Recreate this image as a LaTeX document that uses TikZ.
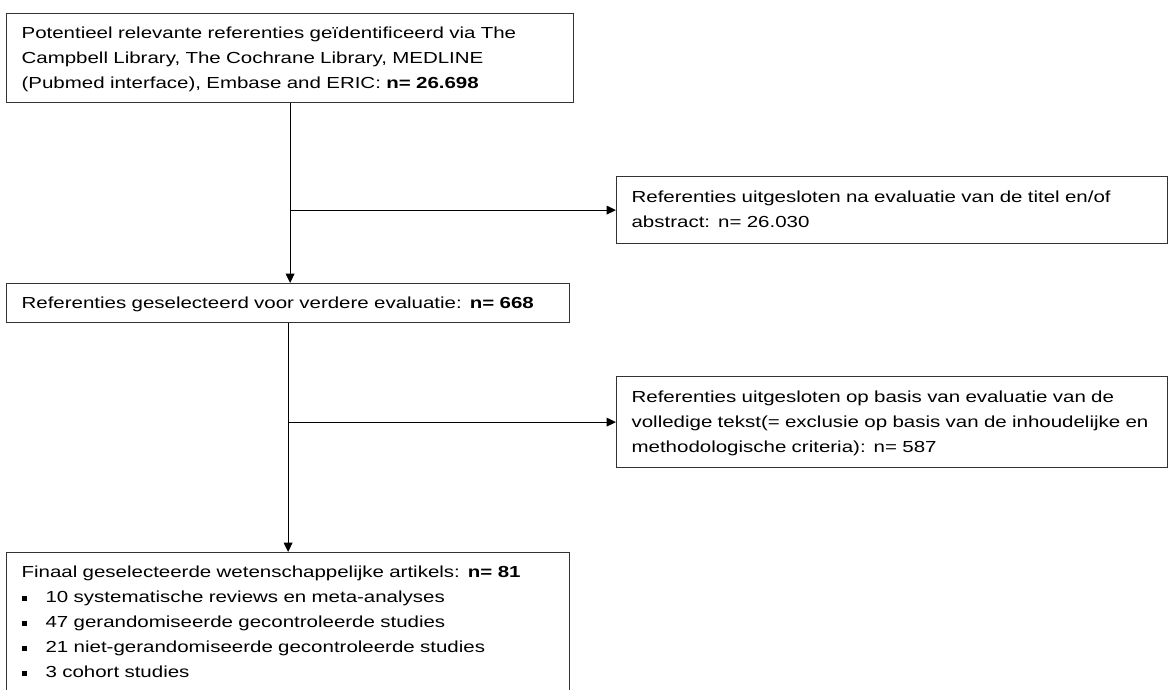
\documentclass[tikz,border=0pt]{standalone}
\usepackage{fontspec}
\setmainfont{Liberation Sans}[FakeStretch=1.28]
\usepackage{tikz}
\usetikzlibrary{arrows.meta,positioning}
\newcommand{\sqbul}{\makebox[18pt][l]{\rule[1.4pt]{3.8pt}{3.8pt}}}

\begin{document}
\begin{tikzpicture}[
			x=0.75pt, y=-0.75pt,
			box/.style={rectangle, draw=black!80, line width=0.9pt, anchor=north west, align=left, inner xsep=11.25pt, inner ysep=0pt, font=\fontsize{12}{18.75}\selectfont, execute at begin node=\strut, execute at end node=\strut},
			widebox/.style={box, minimum width=425.25pt, text width=402.75pt},
			sidebox/.style={box, minimum width=413.25pt, text width=390.75pt},
			dep/.style={-{Triangle[length=7pt,width=6.5pt]}, line width=0.9pt}
			]
			
			% Page
			\fill[white] (0,0) rectangle (1170,689);
			\useasboundingbox (0,0) rectangle (1170,689);
			\clip (0,0) rectangle (1170,689);
			
			% Main column
			\node[widebox, minimum height=66.75pt] (src) at (6,13) {Potentieel relevante referenties geïdentificeerd via The\\ Campbell Library, The Cochrane Library, MEDLINE\\ (Pubmed interface), Embase and ERIC: \textbf{n= 26.698}};
			\node[widebox, minimum width=422.25pt, text width=399.75pt, minimum height=29.25pt] (sel) at (6,283) {Referenties geselecteerd voor verdere evaluatie: \textbf{n= 668}};
			\node[widebox, minimum width=422.25pt, text width=399.75pt, minimum height=105pt] (final) at (6,552) {Finaal geselecteerde wetenschappelijke artikels: \textbf{n= 81}\\
				\sqbul 10 systematische reviews en meta-analyses\\
				\sqbul 47 gerandomiseerde gecontroleerde studies\\
				\sqbul 21 niet-gerandomiseerde gecontroleerde studies\\
				\sqbul 3 cohort studies};
			
			% Exclusions
			\node[sidebox, minimum height=50.25pt] (excl1) at (616,176) {Referenties uitgesloten na evaluatie van de titel en/of\\ abstract: n= 26.030};
			\node[sidebox, minimum height=68.25pt] (excl2) at (616,376) {Referenties uitgesloten op basis van evaluatie van de\\ volledige tekst(= exclusie op basis van de inhoudelijke en\\ methodologische criteria): n= 587};
			
			% Flow
			\draw[dep] (src) -- (src |- sel.north);
			\draw[dep] (src |- excl1.west) -- (excl1.west);
			\draw[dep] (sel) -- (sel |- final.north);
			\draw[dep] (sel |- excl2.west) -- (excl2.west);
			
		\end{tikzpicture}
\end{document}
